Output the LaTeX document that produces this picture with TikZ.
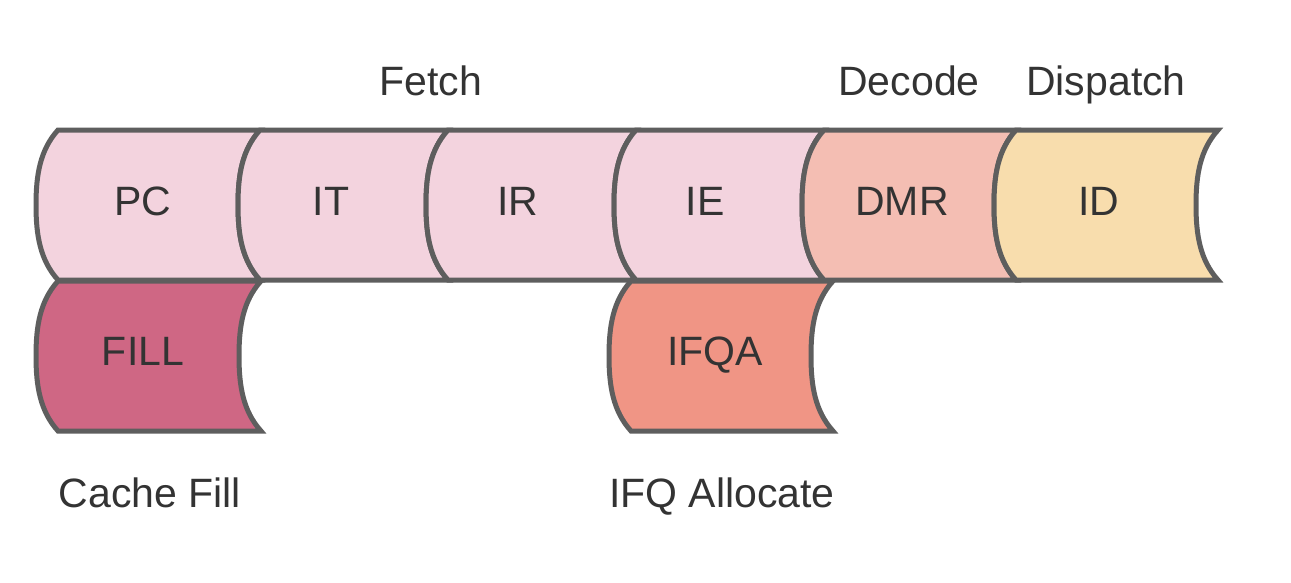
\documentclass[tikz,border=0pt]{standalone}
\usepackage{fontspec}
\setmainfont{Liberation Sans}
\definecolor{strokegray}{HTML}{5E5E5E}
\definecolor{txtgray}{HTML}{333333}
\definecolor{fetchpink}{HTML}{F3D3DE}
\definecolor{decodesalmon}{HTML}{F4BEB3}
\definecolor{dispatchtan}{HTML}{F8DDAD}
\definecolor{fillrose}{HTML}{CF6784}
\definecolor{ifqacoral}{HTML}{F09585}
\newcommand\stageshape[5]{% left, right, top, bottom, colour
  \filldraw[stageline, fill=#5]
    (#1+22,#3) -- (#2+22,#3)
    .. controls (#2+4,#3+20) and (#2,#3+45) .. (#2,#3+75)
    .. controls (#2,#4-45) and (#2+4,#4-20) .. (#2+22,#4)
    -- (#1+22,#4)
    .. controls (#1+4,#4-20) and (#1,#4-45) .. (#1,#3+75)
    .. controls (#1,#3+45) and (#1+4,#3+20) .. cycle;}
\begin{document}
\begin{tikzpicture}[x=1pt,y=-1pt,
  stageline/.style={draw=strokegray, line width=5pt},
  lbl/.style={text=txtgray, font=\fontsize{41}{49}\selectfont, inner sep=0pt, anchor=base}]
\useasboundingbox (0,0) rectangle (1291,582);
% top row
\stageshape{36}{238}{130}{280}{fetchpink}
\stageshape{238}{426}{130}{280}{fetchpink}
\stageshape{426}{614}{130}{280}{fetchpink}
\stageshape{614}{802}{130}{280}{fetchpink}
\stageshape{802}{994}{130}{280}{decodesalmon}
\stageshape{994}{1196}{130}{280}{dispatchtan}
% bottom row
\stageshape{36}{239}{281}{431}{fillrose}
\stageshape{609}{811}{281}{431}{ifqacoral}
% labels inside
\node[lbl] (pc) at (143,215) {PC};
\node[lbl] (it) at (331,215) {IT};
\node[lbl] (ir) at (518,215) {IR};
\node[lbl] (ie) at (705,215) {IE};
\node[lbl] (dmr) at (902,215) {DMR};
\node[lbl] (id) at (1099,215) {ID};
\node[lbl] (fill) at (143,365) {FILL};
\node[lbl] (ifqa) at (715,365) {IFQA};
% stage captions
\node[lbl] (fetch) at (431,95) {Fetch};
\node[lbl] (decode) at (909,95) {Decode};
\node[lbl] (dispatch) at (1106,95) {Dispatch};
\node[lbl] (cachefill) at (150,507) {Cache Fill};
\node[lbl] (ifqalloc) at (722,507) {IFQ Allocate};
\end{tikzpicture}
\end{document}
